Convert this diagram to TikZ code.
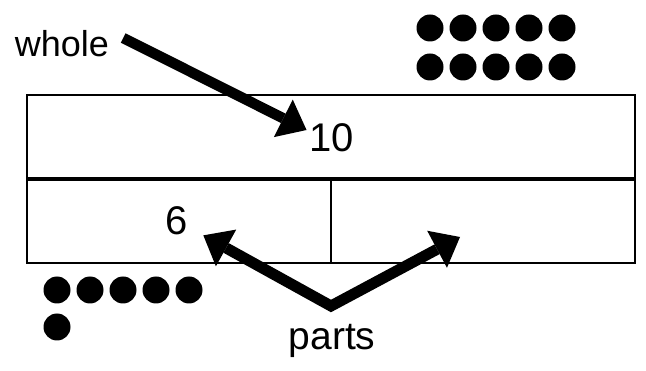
\documentclass[tikz,border=0pt]{standalone}
\usepackage{fontspec}
\setmainfont{Liberation Sans}
\usetikzlibrary{arrows.meta}
\tikzset{
  bar/.style={draw, line width=2pt, inner sep=0pt, minimum height=83pt},
  num/.style={font=\fontsize{40}{40}\selectfont, inner sep=3pt},
  word/.style={font=\fontsize{36}{36}\selectfont, inner sep=0pt},
  bigarrow/.style={-{Triangle[length=26pt,width=42pt,line width=0pt]}, line width=10.5pt},
  partsarrow/.style={{Triangle[length=26pt,width=42pt,line width=0pt]}-{Triangle[length=26pt,width=42pt,line width=0pt]},
                     line width=11pt, line join=miter, miter limit=10},
}

\begin{document}
\begin{tikzpicture}[x=1pt, y=-1pt]
\useasboundingbox (0,0) rectangle (646,371);
% the bar model
\node[bar, minimum width=608pt] (wholebar) at (331,136.5) {};
\node[bar, minimum width=304pt, anchor=north west] (partA) at (wholebar.south west) {};
\node[bar, minimum width=304pt, anchor=north east] (partB) at (wholebar.south east) {};
\node[num] (ten) at (332,138) {10};
\node[num] (six) at (177,221) {6};
% labels
\node[word] (whole) at (62,44) {whole};
\node[word, font=\fontsize{39}{39}\selectfont] (parts) at (332,341) {parts};
\coordinate (vtx)  at (331,306);
\coordinate (rtip) at (460,237);
\draw[bigarrow] ([xshift=14pt,yshift=6pt]whole.east) -- ([yshift=8pt]ten.west);
\draw[partsarrow] ([xshift=12pt,yshift=3pt]six.south east) -- (vtx) -- (rtip);
% counters
\foreach \i in {0,...,4} {
  \fill (430+33*\i,28) circle (13.5pt);
  \fill (430+33*\i,67) circle (13.5pt);
  \fill (57+33*\i,290) circle (13.5pt);
}
\fill (57,327) circle (13.5pt);
\end{tikzpicture}
\end{document}
